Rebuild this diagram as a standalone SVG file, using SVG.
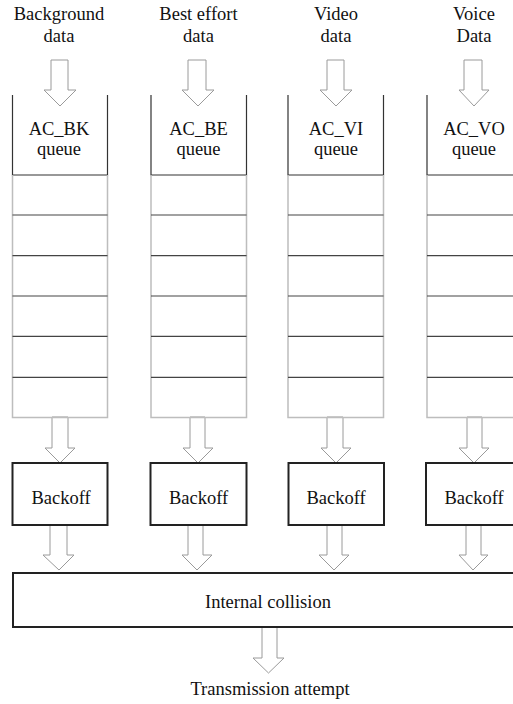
<svg xmlns="http://www.w3.org/2000/svg" width="513" height="704" viewBox="0 0 513 704">
<style>
text{font-family:"Liberation Serif","Times New Roman",serif;font-size:18.5px;fill:#111;text-anchor:middle}
.arr{fill:#fff;stroke:#9a9a9a;stroke-width:1}
.qside{stroke:#bdbdbd;stroke-width:1.5;fill:none}
.qhead{stroke:#333;stroke-width:1.2;fill:none}
.row{stroke:#444;stroke-width:1.2}
.box{fill:#fff;stroke:#222;stroke-width:2}
</style>
<rect width="513" height="704" fill="#fff"/>
<g id="connectors">
<!-- top arrows -->
<path class="arr" d="M51,60 H68 V90 H76 L60,106 L44,90 H51 Z"/>
<path class="arr" d="M188,60 H206 V90 H214 L198,106 L182,90 H188 Z"/>
<path class="arr" d="M327,60 H344 V90 H352 L336,106 L320,90 H327 Z"/>
<path class="arr" d="M464,60 H482 V90 H489 L474,106 L459,90 H464 Z"/>
<!-- queue to backoff -->
<path class="arr" d="M52,417 H68 V448 H75 L60,463 L45,448 H52 Z"/>
<path class="arr" d="M190,417 H205 V448 H213 L198,463 L183,448 H190 Z"/>
<path class="arr" d="M327,417 H343 V448 H351 L336,463 L321,448 H327 Z"/>
<path class="arr" d="M467,417 H482 V448 H489 L474,463 L459,448 H467 Z"/>
<!-- backoff to collision -->
<path class="arr" d="M50,525 H67 V555 H74 L59,570 L43,555 H50 Z"/>
<path class="arr" d="M188,525 H203 V555 H212 L197,570 L182,555 H188 Z"/>
<path class="arr" d="M327,525 H342 V555 H349 L334,570 L319,555 H327 Z"/>
<path class="arr" d="M466,525 H481 V555 H488 L473,570 L459,555 H466 Z"/>
<!-- collision to transmission -->
<path class="arr" d="M262,627 H277 V658 H284 L268.5,673 L253,658 H262 Z"/>
</g>
<g id="label-bk"><text x="59" y="20">Background</text><text x="59" y="42">data</text></g>
<g id="label-be"><text x="198.5" y="20">Best effort</text><text x="198.5" y="42">data</text></g>
<g id="label-vi"><text x="336" y="20">Video</text><text x="336" y="42">data</text></g>
<g id="label-vo"><text x="474" y="20">Voice</text><text x="474" y="42">Data</text></g>
<g id="queue-bk">
<path class="qhead" d="M12.5,95 V175 H107.5 V95"/>
<path class="qside" d="M12.5,175 V417.5 H107.5 V175"/>
<path class="row" d="M12.5,215 H107.5 M12.5,255.7 H107.5 M12.5,296 H107.5 M12.5,336.3 H107.5 M12.5,377.3 H107.5"/>
<text x="59" y="135">AC_BK</text><text x="59" y="155">queue</text>
</g>
<g id="queue-be">
<path class="qhead" d="M151,95 V175 H246.5 V95"/>
<path class="qside" d="M151,175 V417.5 H246.5 V175"/>
<path class="row" d="M151,215 H246.5 M151,255.7 H246.5 M151,296 H246.5 M151,336.3 H246.5 M151,377.3 H246.5"/>
<text x="198.5" y="135">AC_BE</text><text x="198.5" y="155">queue</text>
</g>
<g id="queue-vi">
<path class="qhead" d="M288,95 V175 H383.5 V95"/>
<path class="qside" d="M288,175 V417.5 H383.5 V175"/>
<path class="row" d="M288,215 H383.5 M288,255.7 H383.5 M288,296 H383.5 M288,336.3 H383.5 M288,377.3 H383.5"/>
<text x="336" y="135">AC_VI</text><text x="336" y="155">queue</text>
</g>
<g id="queue-vo">
<path class="qhead" d="M427,95 V175 H514"/>
<path class="qside" d="M427,175 V417.5 H514"/>
<path class="row" d="M427,215 H514 M427,255.7 H514 M427,296 H514 M427,336.3 H514 M427,377.3 H514"/>
<text x="474" y="135">AC_VO</text><text x="474" y="155">queue</text>
</g>
<g id="backoff-bk"><rect class="box" x="12.5" y="463" width="95" height="62"/><text x="61" y="504">Backoff</text></g>
<g id="backoff-be"><rect class="box" x="150.5" y="463" width="96" height="62"/><text x="198.5" y="504">Backoff</text></g>
<g id="backoff-vi"><rect class="box" x="288.5" y="463" width="95.5" height="62"/><text x="336" y="504">Backoff</text></g>
<g id="backoff-vo"><rect class="box" x="426" y="463" width="100" height="62"/><text x="474" y="504">Backoff</text></g>
<g id="collision"><rect class="box" x="13" y="573" width="520" height="54"/><text x="268" y="608">Internal collision</text></g>
<g id="transmission"><text x="270" y="695">Transmission attempt</text></g>
</svg>
